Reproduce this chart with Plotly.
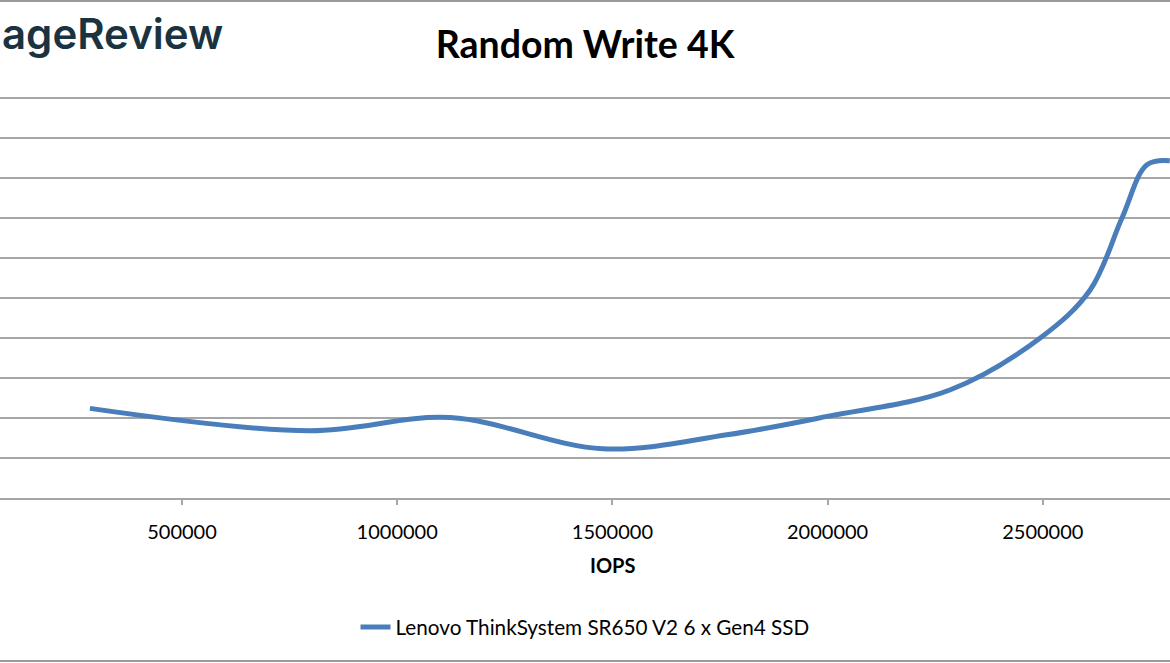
import plotly.graph_objects as go

# Data
iops = [286000, 797000, 1123000, 1478000, 1766000, 1999000, 2284000,
        2494000, 2610000, 2684000, 2742000, 2795000]
latency = [0.224, 0.168, 0.201, 0.123, 0.158, 0.204, 0.270,
           0.400, 0.520, 0.700, 0.833, 0.843]
series_name = "Lenovo ThinkSystem SR650 V2 6 x Gen4 SSD"
x_ticks = [500000, 1000000, 1500000, 2000000, 2500000]
x_tick_labels = ["500000", "1000000", "1500000", "2000000", "2500000"]
y_grid = [0.0, 0.1, 0.2, 0.3, 0.4, 0.5, 0.6, 0.7, 0.8, 0.9, 1.0]

FONT = "Lato"
GRID = "#a6a6a6"
PLOT_TOP = 93
PLOT_H = 405
UNIT = 400  # pixels per 1.0

fig = go.Figure()
fig.add_trace(go.Scatter(
    x=iops, y=latency, mode="lines", name=series_name,
    line=dict(color="#4a7ebb", width=5, shape="spline", smoothing=1.0),
))


def py_to_paper(py):
    return (PLOT_TOP + PLOT_H - py) / PLOT_H


fig.update_layout(
    width=1170, height=663,
    margin=dict(l=0, r=0, t=PLOT_TOP, b=663 - PLOT_TOP - PLOT_H),
    paper_bgcolor="white", plot_bgcolor="white",
    font=dict(family=FONT, color="#000000", size=20),
    title=dict(text="<b>Random Write 4K</b>", x=0.5, xanchor="center",
               y=1 - 45 / 663, yanchor="middle",
               font=dict(family=FONT, size=37.5, color="#000000")),
    showlegend=True,
    legend=dict(orientation="h", x=0.5, xanchor="center", y=py_to_paper(627),
                yanchor="middle", font=dict(family=FONT, size=20.7),
                bgcolor="rgba(0,0,0,0)"),
    xaxis=dict(range=[77138, 2795539], tickvals=x_ticks, ticktext=x_tick_labels,
               showgrid=False, zeroline=False, showline=True, linecolor=GRID,
               linewidth=2, ticks="outside", ticklen=5, tickcolor=GRID,
               tickwidth=1.5, ticklabelstandoff=10,
               tickfont=dict(family=FONT, size=20, color="#000000")),
    yaxis=dict(range=[0, PLOT_H / UNIT], tickvals=y_grid, showgrid=True,
               gridcolor=GRID, gridwidth=2, zeroline=False,
               showticklabels=False, showline=False),
)

# axis title
fig.add_annotation(text="<b>IOPS</b>", xref="paper", yref="paper",
                   x=612 / 1170, y=py_to_paper(565), xanchor="center",
                   yanchor="middle", showarrow=False,
                   font=dict(family=FONT, size=20, color="#000000"))

# logo fragment (cropped in the reference)
fig.add_annotation(text="ageReview", xref="paper", yref="paper",
                   x=0, y=py_to_paper(34), xanchor="left",
                   yanchor="middle", showarrow=False,
                   font=dict(family="Inter", size=42, color="#1b3341",
                             weight=600))

# frame lines
for py in (1, 661):
    fig.add_shape(type="line", xref="paper", yref="paper",
                  x0=-0.01, x1=1.01, y0=py_to_paper(py), y1=py_to_paper(py),
                  line=dict(color="#9a9a9a", width=2))

fig.write_html("out.html",
               config={"displayModeBar": False},
               post_script="document.body.style.margin='0';"
                           "document.body.style.overflow='hidden';")
